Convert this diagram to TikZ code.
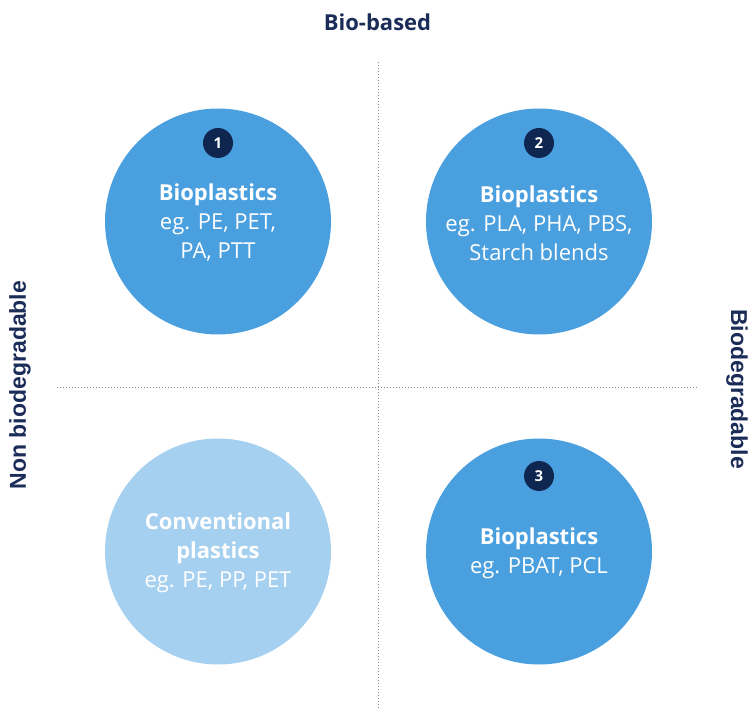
\documentclass[tikz,border=0pt]{standalone}
\usepackage{fontspec}
\setmainfont{Open Sans}
\newfontfamily\labfont{Liberation Sans}
\definecolor{cblue}{HTML}{4A9FDF}
\definecolor{clight}{HTML}{A6D0EF}
\definecolor{navy}{HTML}{0F2750}
\definecolor{navytext}{HTML}{1B2C58}
\definecolor{axisgray}{HTML}{8A8A8A}
\tikzset{
  bigc/.style={circle, minimum size=226pt, inner sep=0pt, draw=none},
  ctext/.style={align=center, text=white, inner sep=0pt, font=\fontsize{22pt}{29pt}\selectfont},
  badge/.style={circle, fill=navy, minimum size=30pt, inner sep=0pt, text=white, font=\bfseries\fontsize{15pt}{15pt}\selectfont},
  axislabel/.style={text=navytext, inner sep=0pt, font=\labfont\bfseries\fontsize{23pt}{23pt}\selectfont},
  toplabel/.style={text=navytext, inner sep=0pt, font=\bfseries\fontsize{22pt}{22pt}\selectfont},
  axisline/.style={draw=axisgray, line width=1pt, dash pattern=on 1pt off 2pt}
}
\begin{document}
\begin{tikzpicture}[x=1pt, y=-1pt]
\useasboundingbox (0,0) rectangle (749,708);
% axes
\coordinate (vtop) at (378,62);
\coordinate (vbot) at (378,708);
\coordinate (hleft) at (57,387);
\coordinate (hright) at (697,387);
\draw[axisline] (vtop) -- (vbot);
\draw[axisline] (hleft) -- (hright);
% labels
\node[toplabel] (biobased) at (377.5,22.7) {Bio-based};
\node[axislabel, rotate=90] (nonbio) at (20,385) {Non biodegradable};
\node[axislabel, rotate=-90] (bio) at (737,389) {Biodegradable};
% circles
\node[bigc, fill=cblue] (c1) at (218,221.5) {};
\node[bigc, fill=cblue] (c2) at (539,221.5) {};
\node[bigc, fill=clight] (c4) at (218,551.5) {};
\node[bigc, fill=cblue] (c3) at (539,551.5) {};
% texts
\node[ctext] (t1) at (218,223) {\textbf{Bioplastics}\\eg. PE, PET,\\PA, PTT};
\node[ctext] (t2) at (539,223) {\textbf{Bioplastics}\\eg. PLA, PHA, PBS,\\Starch blends};
\node[ctext] (t4) at (218,553) {\textbf{Conventional}\\\textbf{plastics}\\eg. PE, PP, PET};
\node[ctext] (t3) at (539,553) {\textbf{Bioplastics}\\eg. PBAT, PCL};
% badges
\node[badge] (b1) at (218,143) {1};
\node[badge] (b2) at (539,143) {2};
\node[badge] (b3) at (539,476) {3};
\end{tikzpicture}
\end{document}
